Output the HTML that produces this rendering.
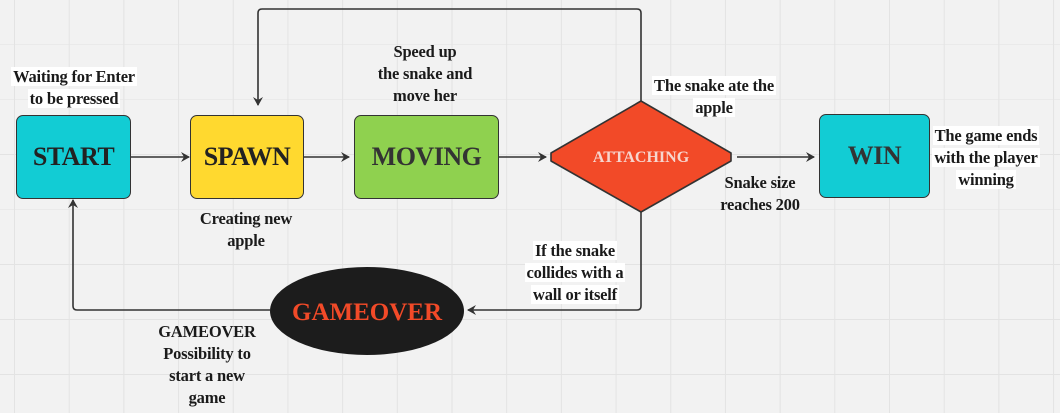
<!DOCTYPE html>
<html><head><style>
html,body{margin:0;padding:0}
body{width:1060px;height:413px;overflow:hidden;position:relative;background-color:#f2f2f2;
background-image:linear-gradient(#e3e3e3 1px,transparent 1px),linear-gradient(90deg,#e3e3e3 1px,transparent 1px);
background-size:54.7px 55px;background-position:14px 44px;font-family:"Liberation Serif",serif;}
.box{position:absolute;border:1.5px solid #333;border-radius:7px;box-sizing:border-box;display:flex;align-items:center;justify-content:center;font-weight:bold;font-size:26px;color:#222;letter-spacing:-0.5px}
.lbl{position:absolute;font-family:"Liberation Serif",serif;font-weight:bold;font-size:16.5px;line-height:22px;color:#1a1a1a;text-align:center;white-space:nowrap;letter-spacing:-0.2px}
.lbl span{background:#fff;padding:0 2px}
svg{position:absolute;left:0;top:0}
</style></head><body>
<svg width="1060" height="413">
<defs><marker id="a" markerWidth="10" markerHeight="10" refX="8" refY="5" orient="auto" markerUnits="userSpaceOnUse"><path d="M0,0 L9,5 L0,10 L3,5 z" fill="#333"/></marker></defs>
<g stroke="#333" stroke-width="1.6" fill="none">
<line x1="131" y1="157" x2="189" y2="157" marker-end="url(#a)"/>
<line x1="304" y1="157" x2="349" y2="157" marker-end="url(#a)"/>
<line x1="499" y1="157" x2="546" y2="157" marker-end="url(#a)"/>
<line x1="737" y1="157" x2="814" y2="157" marker-end="url(#a)"/>
<path d="M641,101 V13 Q641,9 637,9 H262 Q258,9 258,13 V105" marker-end="url(#a)"/>
<path d="M641,212 V306 Q641,310 637,310 H468" marker-end="url(#a)"/>
<path d="M270,310 H77 Q73,310 73,306 V200" marker-end="url(#a)"/>
</g>
<polygon points="641,101 731,153 731,161 641,212 551,161 551,153" fill="#f24a28" stroke="#333" stroke-width="1.6" stroke-linejoin="round"/>
<text x="641" y="162" text-anchor="middle" font-family="Liberation Serif,serif" font-weight="bold" font-size="16" fill="#f6d6cf">ATTACHING</text>
<ellipse cx="367" cy="311" rx="97" ry="44" fill="#1c1c1c"/>
<text x="367" y="320" text-anchor="middle" font-family="Liberation Serif,serif" font-weight="bold" font-size="25" fill="#f24a28">GAMEOVER</text>
</svg>
<div class="box" style="left:16px;top:115px;width:115px;height:84px;background:#12ccd4">START</div>
<div class="box" style="left:190px;top:115px;width:114px;height:84px;background:#ffd92f">SPAWN</div>
<div class="box" style="left:354px;top:115px;width:145px;height:84px;background:#8fd14f;color:#333">MOVING</div>
<div class="box" style="left:819px;top:114px;width:111px;height:84px;background:#12ccd4;color:#333">WIN</div>
<div class="lbl" style="left:4px;top:66px;width:140px"><span>Waiting for Enter</span><br><span>to be pressed</span></div>
<div class="lbl" style="left:355px;top:41px;width:140px">Speed up<br>the snake and<br>move her</div>
<div class="lbl" style="left:176px;top:208px;width:140px">Creating new<br>apple</div>
<div class="lbl" style="left:644px;top:75px;width:140px"><span>The snake ate the</span><br><span>apple</span></div>
<div class="lbl" style="left:690px;top:172px;width:140px">Snake size<br>reaches 200</div>
<div class="lbl" style="left:916px;top:125px;width:140px"><span>The game ends</span><br><span>with the player</span><br><span>winning</span></div>
<div class="lbl" style="left:505px;top:240px;width:140px"><span>If the snake</span><br><span>collides with a</span><br><span>wall or itself</span></div>
<div class="lbl" style="left:137px;top:321px;width:140px">GAMEOVER<br>Possibility to<br>start a new<br>game</div>
</body></html>
